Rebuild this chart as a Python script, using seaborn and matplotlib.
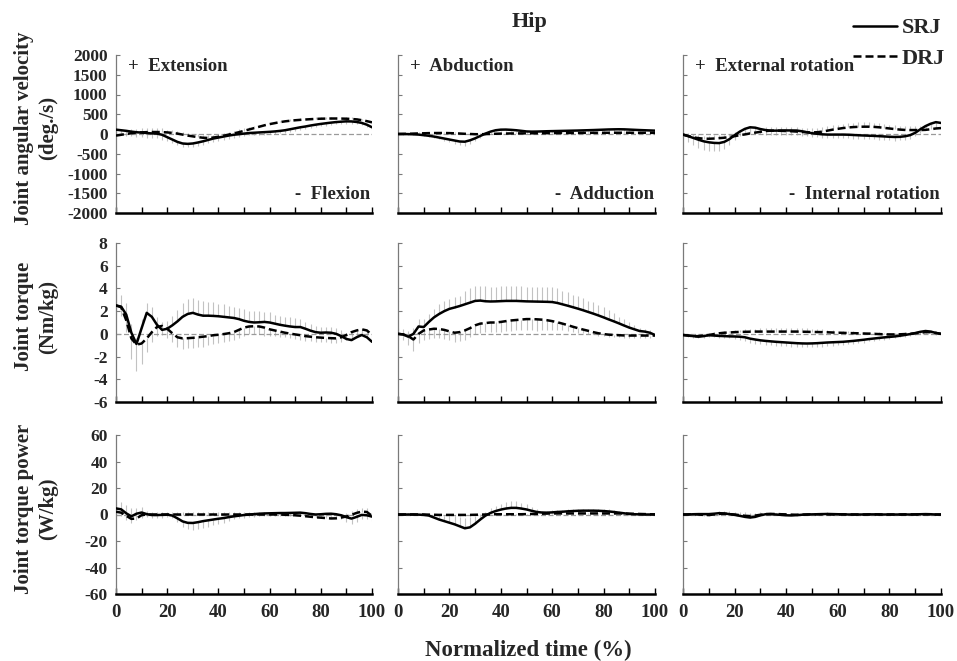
import numpy as np
import pandas as pd
import matplotlib
matplotlib.use("Agg")
import matplotlib.pyplot as plt
from matplotlib.lines import Line2D
import seaborn as sns

# ---------------- data ----------------
TIME = list(range(0, 101, 2))  # normalized time (%)

# Row 1: joint angular velocity (deg./s)
VEL_FLEX_SRJ = [110, 95, 80, 60, 45, 35, 25, 15, 10, -20,
                -80, -140, -200, -240, -250, -240, -215, -185, -150, -115,
                -90, -65, -40, -20, -5, 10, 25, 32, 40, 47,
                55, 65, 78, 95, 120, 145, 170, 190, 215, 236,
                255, 272, 288, 302, 312, 320, 318, 305, 280, 235,
                170]
VEL_FLEX_DRJ = [-40, -20, 0, 20, 35, 42, 47, 50, 50, 48,
                40, 28, 10, -15, -40, -60, -80, -95, -100, -90,
                -70, -45, -15, 15, 45, 80, 115, 150, 185, 220,
                250, 275, 300, 320, 335, 348, 358, 367, 375, 382,
                387, 390, 392, 392, 390, 387, 380, 370, 350, 325,
                295]
VEL_FLEX_SRJ_SD = [120, 120, 120, 120, 120, 120, 120, 120, 120, 120,
                   90, 90, 90, 90, 90, 90, 90, 90, 90, 90,
                   90, 90, 80, 70, 60, 60, 60, 60, 60, 60,
                   60, 60, 60, 60, 60, 60, 60, 60, 60, 60,
                   60, 60, 60, 60, 60, 60, 60, 60, 60, 60,
                   60]
VEL_FLEX_DRJ_SD = [100, 100, 100, 100, 100, 100, 100, 100, 100, 100,
                   70, 70, 70, 70, 70, 70, 70, 70, 70, 70,
                   70, 70, 70, 70, 70, 60, 50, 40, 40, 40,
                   40, 40, 40, 40, 40, 40, 40, 40, 40, 40,
                   40, 40, 40, 40, 40, 40, 40, 40, 40, 40,
                   40]

VEL_ABD_SRJ = [0, 0, -3, -8, -15, -30, -45, -65, -90, -115,
               -140, -165, -190, -195, -160, -110, -50, 10, 60, 95,
               110, 112, 105, 95, 80, 65, 60, 62, 66, 70,
               73, 76, 79, 82, 85, 88, 92, 96, 100, 105,
               110, 115, 118, 120, 118, 112, 106, 100, 95, 90,
               85]
VEL_ABD_DRJ = [0, 2, 5, 10, 14, 18, 22, 24, 25, 25,
               22, 18, 12, 5, 0, -5, -6, -3, 2, 6,
               10, 12, 14, 15, 16, 17, 18, 19, 20, 21,
               22, 23, 24, 25, 26, 27, 28, 29, 30, 30,
               31, 31, 32, 32, 32, 32, 31, 30, 30, 29,
               28]
VEL_ABD_SRJ_SD = [20, 20, 20, 20, 20, 20, 25, 30, 40, 50,
                  60, 80, 100, 120, 100, 70, 50, 40, 30, 30,
                  30, 30, 30, 30, 30, 30, 30, 30, 30, 30,
                  30, 30, 30, 30, 30, 30, 30, 30, 30, 30,
                  30, 30, 30, 30, 30, 30, 30, 30, 30, 30,
                  30]
VEL_ABD_DRJ_SD = [25, 25, 25, 25, 25, 25, 25, 25, 25, 25,
                  25, 25, 25, 25, 25, 25, 25, 25, 25, 25,
                  25, 25, 25, 25, 25, 25, 25, 25, 25, 25,
                  25, 25, 25, 25, 25, 25, 25, 25, 25, 25,
                  25, 25, 25, 25, 25, 25, 25, 25, 25, 25,
                  25]

VEL_ROT_SRJ = [-15, -55, -100, -145, -185, -210, -225, -230, -200, -130,
               -30, 60, 130, 170, 160, 125, 100, 85, 85, 88,
               90, 90, 88, 70, 45, 20, 5, -8, -15, -15,
               -15, -15, -18, -25, -32, -38, -43, -48, -55, -62,
               -70, -75, -72, -58, -30, 30, 120, 200, 260, 300,
               280]
VEL_ROT_DRJ = [-15, -50, -85, -105, -118, -120, -115, -105, -95, -75,
               -55, -30, -10, 15, 35, 55, 75, 85, 85, 80,
               75, 70, 62, 52, 44, 40, 45, 60, 85, 110,
               130, 150, 165, 175, 182, 185, 185, 180, 170, 155,
               140, 125, 112, 103, 100, 100, 100, 105, 120, 140,
               150]
VEL_ROT_SRJ_SD = [100, 150, 180, 200, 210, 210, 210, 200, 180, 150,
                  130, 120, 120, 120, 120, 120, 120, 120, 120, 120,
                  120, 120, 120, 110, 100, 90, 90, 90, 90, 90,
                  90, 90, 90, 90, 90, 90, 90, 90, 90, 90,
                  90, 90, 90, 90, 90, 90, 90, 90, 90, 90,
                  90]
VEL_ROT_DRJ_SD = [60, 70, 80, 80, 80, 80, 80, 80, 80, 80,
                  100, 100, 100, 100, 100, 100, 100, 100, 100, 100,
                  110, 110, 110, 110, 110, 110, 110, 110, 110, 110,
                  110, 110, 110, 110, 110, 110, 110, 110, 110, 110,
                  100, 100, 100, 100, 100, 100, 100, 100, 100, 100,
                  100]

# Row 2: joint torque (Nm/kg)
TRQ_FLEX_SRJ = [2.5, 2.4, 1.7, 0.1, -0.9, 0.5, 1.85, 1.5, 0.8, 0.35,
                0.45, 0.75, 1.1, 1.5, 1.75, 1.85, 1.7, 1.6, 1.6, 1.58,
                1.55, 1.5, 1.45, 1.4, 1.3, 1.15, 1.05, 1.0, 1.02, 1.05,
                1.0, 0.9, 0.8, 0.72, 0.65, 0.6, 0.6, 0.45, 0.28, 0.15,
                0.1, 0.12, 0.1, 0.0, -0.2, -0.45, -0.55, -0.3, -0.1, -0.3,
                -0.7]
TRQ_FLEX_DRJ = [2.5, 2.35, 1.2, -0.4, -0.95, -0.85, -0.4, 0.15, 0.6, 0.7,
                0.45, 0.05, -0.3, -0.4, -0.38, -0.35, -0.3, -0.25, -0.2, -0.12,
                -0.08, -0.02, 0.05, 0.15, 0.35, 0.55, 0.65, 0.67, 0.65, 0.55,
                0.4, 0.3, 0.2, 0.1, 0.02, -0.05, -0.12, -0.2, -0.25, -0.3,
                -0.33, -0.36, -0.38, -0.4, -0.3, -0.1, 0.15, 0.3, 0.4, 0.3,
                -0.1]
TRQ_FLEX_SRJ_SD = [1.0, 1.0, 1.0, 0.8, 0.5, 0.8, 0.9, 0.9, 0.7, 0.7,
                   0.7, 0.8, 1.0, 1.2, 1.3, 1.3, 1.3, 1.3, 1.2, 1.2,
                   1.1, 1.1, 1.0, 1.0, 1.0, 1.0, 1.0, 1.0, 1.0, 0.9,
                   0.9, 0.8, 0.8, 0.8, 0.8, 0.8, 0.7, 0.6, 0.6, 0.5,
                   0.5, 0.5, 0.5, 0.5, 0.5, 0.5, 0.5, 0.5, 0.5, 0.5,
                   0.3]
TRQ_FLEX_DRJ_SD = [0.8, 0.8, 1.0, 1.8, 2.3, 1.8, 1.2, 0.9, 0.8, 0.8,
                   0.8, 0.8, 0.9, 0.9, 0.9, 0.9, 0.9, 0.9, 0.8, 0.8,
                   0.7, 0.7, 0.7, 0.7, 0.7, 0.7, 0.7, 0.7, 0.7, 0.7,
                   0.6, 0.5, 0.5, 0.4, 0.4, 0.4, 0.4, 0.4, 0.4, 0.4,
                   0.4, 0.4, 0.4, 0.4, 0.4, 0.4, 0.4, 0.4, 0.4, 0.4,
                   0.3]

TRQ_ABD_SRJ = [0.0, -0.05, -0.25, 0.0, 0.65, 0.6, 1.05, 1.45, 1.75, 2.0,
               2.2, 2.32, 2.45, 2.6, 2.75, 2.9, 2.93, 2.87, 2.85, 2.86,
               2.88, 2.9, 2.9, 2.9, 2.88, 2.86, 2.85, 2.84, 2.83, 2.82,
               2.8, 2.72, 2.6, 2.48, 2.35, 2.22, 2.08, 1.93, 1.78, 1.62,
               1.45, 1.27, 1.1, 0.92, 0.73, 0.55, 0.4, 0.25, 0.2, 0.1,
               -0.1]
TRQ_ABD_DRJ = [0.0, -0.05, -0.2, -0.5, 0.0, 0.3, 0.38, 0.45, 0.43, 0.35,
               0.22, 0.1, 0.15, 0.3, 0.5, 0.75, 0.9, 0.95, 1.0, 1.0,
               1.05, 1.12, 1.18, 1.22, 1.26, 1.3, 1.3, 1.28, 1.25, 1.2,
               1.12, 1.02, 0.9, 0.77, 0.63, 0.5, 0.38, 0.27, 0.15, 0.05,
               -0.02, -0.07, -0.1, -0.12, -0.14, -0.15, -0.15, -0.15, -0.15, -0.15,
               -0.15]
TRQ_ABD_SRJ_SD = [0.5, 0.5, 0.5, 0.5, 0.7, 0.7, 0.7, 0.7, 0.9, 0.9,
                  0.9, 0.9, 0.9, 1.2, 1.3, 1.3, 1.3, 1.3, 1.3, 1.3,
                  1.3, 1.3, 1.3, 1.3, 1.3, 1.3, 1.3, 1.3, 1.3, 1.3,
                  1.3, 1.3, 1.2, 1.2, 1.1, 1.1, 1.1, 1.0, 1.0, 0.9,
                  0.9, 0.8, 0.7, 0.6, 0.6, 0.5, 0.4, 0.3, 0.25, 0.25,
                  0.2]
TRQ_ABD_DRJ_SD = [0.5, 0.5, 0.8, 1.0, 0.8, 0.8, 0.8, 0.8, 0.8, 0.8,
                  0.8, 0.8, 0.8, 0.8, 0.8, 0.8, 0.8, 0.8, 0.8, 0.8,
                  0.9, 0.9, 0.9, 0.9, 0.9, 1.0, 1.0, 1.0, 0.9, 0.9,
                  0.8, 0.7, 0.6, 0.5, 0.5, 0.4, 0.3, 0.3, 0.2, 0.2,
                  0.2, 0.2, 0.2, 0.2, 0.2, 0.2, 0.2, 0.2, 0.2, 0.2,
                  0.2]

TRQ_ROT_SRJ = [-0.1, -0.15, -0.2, -0.25, -0.2, -0.12, -0.15, -0.18, -0.2, -0.22,
               -0.23, -0.25, -0.3, -0.42, -0.5, -0.57, -0.62, -0.66, -0.7, -0.73,
               -0.76, -0.79, -0.82, -0.84, -0.85, -0.84, -0.82, -0.79, -0.76, -0.74,
               -0.72, -0.7, -0.66, -0.62, -0.57, -0.52, -0.46, -0.41, -0.36, -0.31,
               -0.27, -0.23, -0.17, -0.1, -0.02, 0.07, 0.18, 0.25, 0.2, 0.08,
               0.0]
TRQ_ROT_DRJ = [-0.1, -0.15, -0.2, -0.2, -0.15, -0.1, -0.02, 0.05, 0.1, 0.12,
               0.15, 0.17, 0.18, 0.19, 0.2, 0.2, 0.2, 0.2, 0.2, 0.2,
               0.2, 0.2, 0.2, 0.19, 0.18, 0.17, 0.16, 0.15, 0.14, 0.12,
               0.1, 0.09, 0.07, 0.06, 0.05, 0.03, 0.02, 0.0, -0.02, -0.04,
               -0.05, -0.05, -0.04, -0.02, 0.0, 0.05, 0.1, 0.15, 0.15, 0.08,
               0.0]
TRQ_ROT_SRJ_SD = [0.15, 0.15, 0.15, 0.15, 0.15, 0.15, 0.15, 0.15, 0.15, 0.15,
                  0.2, 0.25, 0.3, 0.35, 0.35, 0.35, 0.35, 0.35, 0.35, 0.35,
                  0.35, 0.35, 0.35, 0.35, 0.35, 0.35, 0.35, 0.35, 0.35, 0.35,
                  0.3, 0.3, 0.25, 0.25, 0.25, 0.25, 0.2, 0.2, 0.2, 0.2,
                  0.15, 0.15, 0.15, 0.15, 0.15, 0.15, 0.15, 0.15, 0.15, 0.15,
                  0.15]
TRQ_ROT_DRJ_SD = [0.15, 0.15, 0.15, 0.15, 0.15, 0.15, 0.15, 0.15, 0.15, 0.15,
                  0.2, 0.2, 0.25, 0.25, 0.25, 0.3, 0.3, 0.3, 0.3, 0.3,
                  0.3, 0.3, 0.3, 0.3, 0.3, 0.25, 0.25, 0.25, 0.2, 0.2,
                  0.15, 0.15, 0.15, 0.15, 0.15, 0.15, 0.15, 0.15, 0.15, 0.15,
                  0.15, 0.15, 0.15, 0.15, 0.15, 0.15, 0.15, 0.15, 0.15, 0.15,
                  0.15]

# Row 3: joint torque power (W/kg)
POW_FLEX_SRJ = [4.6, 3.9, 0.9, -1.4, 0.6, 1.5, 0.3, -0.4, -0.4, -0.3,
                -0.1, -0.8, -2.9, -5.2, -6.3, -6.4, -5.8, -5.0, -4.4, -3.8,
                -3.2, -2.7, -2.0, -1.4, -0.9, -0.4, 0.0, 0.3, 0.6, 0.8,
                0.9, 1.0, 1.1, 1.1, 1.2, 1.3, 1.4, 1.0, 0.4, 0.0,
                0.2, 0.5, 0.6, 0.2, -0.6, -2.0, -3.1, -1.8, -0.3, -0.6,
                -1.6]
POW_FLEX_DRJ = [2.1, 1.4, -1.0, -3.3, -3.0, -0.5, 0.0, 0.0, 0.0, 0.0,
                0.0, 0.0, 0.0, 0.0, 0.0, 0.0, 0.0, 0.0, 0.0, 0.0,
                0.0, 0.0, 0.0, 0.0, 0.0, 0.0, 0.0, 0.0, 0.0, 0.0,
                0.0, 0.0, 0.0, -0.2, -0.4, -0.6, -0.9, -1.3, -1.7, -2.1,
                -2.4, -2.7, -3.0, -2.9, -2.3, -1.5, -0.2, 1.2, 2.2, 1.9,
                -1.1]
POW_FLEX_SRJ_SD = [5, 5, 5, 5, 5, 4, 2, 2, 2, 2,
                   2, 2, 3, 4, 5, 5, 5, 5, 5, 4,
                   4, 4, 3, 2, 2, 2, 2, 2, 2, 2,
                   2, 2, 2, 2, 2, 2, 2, 2, 2, 2,
                   2, 2, 2, 2, 3, 4, 4, 4, 3, 3,
                   3]
POW_FLEX_DRJ_SD = [8, 8, 8, 8, 8, 6, 3, 2, 2, 2,
                   2, 2, 2, 2, 2, 2, 2, 2, 2, 2,
                   2, 2, 2, 2, 2, 2, 2, 2, 2, 2,
                   2, 2, 2, 2, 2, 2, 2, 2, 2, 2,
                   2, 2, 2, 2, 3, 3, 3, 3, 3, 3,
                   3]

POW_ABD_SRJ = [0.0, 0.0, 0.0, 0.0, -0.1, -0.3, -0.8, -2.3, -3.8, -5.0,
               -6.2, -7.4, -8.9, -10.4, -9.7, -7.0, -3.8, -0.9, 1.2, 2.6,
               3.7, 4.5, 5.0, 5.0, 4.5, 3.8, 2.8, 1.9, 1.5, 1.4,
               1.6, 1.9, 2.1, 2.4, 2.6, 2.8, 2.9, 2.9, 2.9, 2.8,
               2.6, 2.3, 1.9, 1.4, 0.9, 0.4, 0.2, 0.1, 0.0, 0.0,
               0.0]
POW_ABD_DRJ = [0.0, 0.0, 0.0, 0.0, 0.0, 0.0, -0.1, -0.2, -0.3, -0.3,
               -0.3, -0.3, -0.3, -0.3, -0.3, -0.2, -0.1, 0.0, 0.1, 0.2,
               0.2, 0.2, 0.2, 0.2, 0.2, 0.3, 0.4, 0.5, 0.6, 0.7,
               0.8, 0.8, 0.8, 0.8, 0.8, 0.8, 0.8, 0.8, 0.8, 0.8,
               0.8, 0.8, 0.8, 0.8, 0.8, 0.6, 0.5, 0.4, 0.3, 0.2,
               0.1]
POW_ABD_SRJ_SD = [0.8, 0.8, 0.8, 0.8, 0.8, 0.8, 1.0, 2.0, 3.0, 4.0,
                  5.0, 6.0, 7.0, 8.0, 8.0, 6.0, 4.0, 3.0, 3.5, 4.0,
                  4.5, 5.0, 5.0, 5.0, 4.5, 4.0, 3.0, 2.0, 1.5, 1.5,
                  1.5, 1.5, 1.5, 1.5, 1.5, 1.5, 1.5, 1.5, 1.5, 1.5,
                  1.5, 1.5, 1.5, 1.5, 1.0, 0.5, 0.5, 0.5, 0.5, 0.5,
                  0.5]
POW_ABD_DRJ_SD = [0.5, 0.5, 0.5, 0.5, 0.5, 0.5, 0.5, 0.5, 0.5, 0.5,
                  0.5, 0.5, 0.5, 0.5, 0.5, 0.5, 0.5, 0.5, 0.5, 0.5,
                  0.5, 0.5, 0.5, 0.5, 0.5, 0.5, 0.5, 0.5, 0.5, 0.5,
                  0.5, 0.5, 0.5, 0.5, 0.5, 0.5, 0.5, 0.5, 0.5, 0.5,
                  0.5, 0.5, 0.5, 0.5, 0.5, 0.5, 0.5, 0.5, 0.5, 0.5,
                  0.5]

POW_ROT_SRJ = [0.0, 0.0, 0.2, 0.3, 0.3, 0.3, 0.6, 1.0, 0.8, 0.3,
               -0.3, -1.0, -1.8, -2.3, -1.8, -0.6, 0.2, 0.3, 0.0, -0.3,
               -0.6, -0.7, -0.5, -0.2, 0.0, 0.1, 0.2, 0.3, 0.4, 0.3,
               0.2, 0.1, 0.0, 0.0, 0.0, 0.0, 0.1, 0.1, 0.0, 0.0,
               0.0, 0.0, 0.0, 0.0, 0.0, 0.1, 0.2, 0.3, 0.2, 0.0,
               0.0]
POW_ROT_DRJ = [0.0, 0.1, 0.3, 0.0, -0.3, -0.4, 0.0, 0.5, 0.6, 0.3,
               0.0, -0.5, -1.0, -1.2, -0.8, -0.2, 0.3, 0.4, 0.4, 0.2,
               0.1, -0.1, -0.2, -0.1, 0.0, 0.1, 0.2, 0.2, 0.1, 0.0,
               0.0, 0.1, 0.1, 0.0, 0.0, 0.0, 0.0, 0.1, 0.1, 0.0,
               0.0, 0.0, 0.0, 0.1, 0.1, 0.0, 0.0, 0.1, 0.1, 0.0,
               0.0]
POW_ROT_SRJ_SD = [0.8, 0.8, 0.8, 0.8, 0.8, 0.8, 0.8, 1.5, 2.0, 2.0,
                  2.5, 3.0, 3.5, 3.5, 3.0, 2.5, 1.5, 1.2, 1.2, 1.2,
                  1.2, 1.2, 1.2, 1.2, 1.2, 1.2, 1.2, 1.2, 1.2, 1.2,
                  0.6, 0.6, 0.6, 0.6, 0.6, 0.6, 0.6, 0.6, 0.6, 0.6,
                  0.6, 0.6, 0.6, 0.6, 0.6, 0.6, 0.6, 0.6, 0.6, 0.6,
                  0.6]
POW_ROT_DRJ_SD = [0.6, 0.6, 0.6, 0.6, 0.6, 0.6, 0.6, 0.6, 0.6, 0.6,
                  0.6, 0.6, 0.6, 0.6, 0.6, 0.6, 0.6, 0.6, 0.6, 0.6,
                  0.6, 0.6, 0.6, 0.6, 0.6, 0.6, 0.6, 0.6, 0.6, 0.6,
                  0.6, 0.6, 0.6, 0.6, 0.6, 0.6, 0.6, 0.6, 0.6, 0.6,
                  0.6, 0.6, 0.6, 0.6, 0.6, 0.6, 0.6, 0.6, 0.6, 0.6,
                  0.6]

JUMPS = ["SRJ", "DRJ"]
TITLE = "Hip"
X_LABEL = "Normalized time (%)"
ROW_LABELS = ["Joint angular velocity\n(deg./s)", "Joint torque\n(Nm/kg)",
              "Joint torque power\n(W/kg)"]
Y_TICKS = [[-2000, -1500, -1000, -500, 0, 500, 1000, 1500, 2000],
           [-6, -4, -2, 0, 2, 4, 6, 8],
           [-60, -40, -20, 0, 20, 40, 60]]
X_TICKS = [0, 10, 20, 30, 40, 50, 60, 70, 80, 90, 100]
X_TICK_LABELS = ["0", "", "20", "", "40", "", "60", "", "80", "", "100"]
POS_LABELS = ["+  Extension", "+  Abduction", "+  External rotation"]
NEG_LABELS = ["-  Flexion", "-  Adduction", "-  Internal rotation"]

SERIES = [
    [(VEL_FLEX_SRJ, VEL_FLEX_SRJ_SD, VEL_FLEX_DRJ, VEL_FLEX_DRJ_SD),
     (VEL_ABD_SRJ, VEL_ABD_SRJ_SD, VEL_ABD_DRJ, VEL_ABD_DRJ_SD),
     (VEL_ROT_SRJ, VEL_ROT_SRJ_SD, VEL_ROT_DRJ, VEL_ROT_DRJ_SD)],
    [(TRQ_FLEX_SRJ, TRQ_FLEX_SRJ_SD, TRQ_FLEX_DRJ, TRQ_FLEX_DRJ_SD),
     (TRQ_ABD_SRJ, TRQ_ABD_SRJ_SD, TRQ_ABD_DRJ, TRQ_ABD_DRJ_SD),
     (TRQ_ROT_SRJ, TRQ_ROT_SRJ_SD, TRQ_ROT_DRJ, TRQ_ROT_DRJ_SD)],
    [(POW_FLEX_SRJ, POW_FLEX_SRJ_SD, POW_FLEX_DRJ, POW_FLEX_DRJ_SD),
     (POW_ABD_SRJ, POW_ABD_SRJ_SD, POW_ABD_DRJ, POW_ABD_DRJ_SD),
     (POW_ROT_SRJ, POW_ROT_SRJ_SD, POW_ROT_DRJ, POW_ROT_DRJ_SD)],
]

# direction in which the SD bars are drawn (SRJ, DRJ)
SD_DIR = [[(-1, 1), (-1, 1), (-1, 1)],
          [(1, -1), (1, -1), (-1, 1)],
          [(-1, 1), (1, -1), (1, -1)]]

# ---------------- style ----------------
sns.set_style("white")
plt.rcParams["font.family"] = ["Liberation Serif", "DejaVu Serif"]
plt.rcParams["font.weight"] = "bold"
plt.rcParams["axes.unicode_minus"] = False

W, H = 957, 661
fig = plt.figure(figsize=(W / 100, H / 100), dpi=100)

COL_X = [(116, 372), (398, 655), (683, 941)]
ROW_Y = [(55, 213), (243, 402), (435, 594)]

for r in range(3):
    for c in range(3):
        x0, x1 = COL_X[c]
        y0, y1 = ROW_Y[r]
        ax = fig.add_axes([x0 / W, 1 - y1 / H, (x1 - x0) / W, (y1 - y0) / H])
        srj, srj_sd, drj, drj_sd = SERIES[r][c]
        df = pd.DataFrame({
            "time": TIME + TIME,
            "value": srj + drj,
            "sd": srj_sd + drj_sd,
            "jump": ["SRJ"] * len(TIME) + ["DRJ"] * len(TIME),
        })
        # SD bars
        for jump, d in zip(JUMPS, SD_DIR[r][c]):
            sub = df[df["jump"] == jump]
            ax.vlines(sub["time"], sub["value"], sub["value"] + d * sub["sd"],
                      color="#c2c2c2", linewidth=0.8, zorder=1)
        ax.axhline(0, color="#9a9a9a", linewidth=0.9, linestyle=(0, (4, 2)), zorder=2)
        sns.lineplot(data=df, x="time", y="value", style="jump", style_order=JUMPS,
                     dashes={"SRJ": "", "DRJ": (3.2, 1.6)}, color="black",
                     linewidth=1.8, legend=False, errorbar=None, ax=ax, zorder=3)
        ax.set_xlim(0, 100)
        ax.set_ylim(Y_TICKS[r][0], Y_TICKS[r][-1])
        ax.set_xlabel("")
        ax.set_ylabel("")
        for s in ("top", "right"):
            ax.spines[s].set_visible(False)
        ax.spines["left"].set_color("#7a7a7a")
        ax.spines["left"].set_linewidth(0.9)
        ax.spines["bottom"].set_color("black")
        ax.spines["bottom"].set_linewidth(1.8)
        ax.set_xticks(X_TICKS)
        ax.set_yticks(Y_TICKS[r])
        ax.tick_params(axis="x", bottom=True, direction="in", length=4, width=1.0,
                       color="black", pad=7, labelsize=13.5)
        ax.tick_params(axis="y", left=True, direction="in", length=3, width=0.8,
                       color="#7a7a7a", pad=6, labelsize=12.5)
        if r == 2:
            ax.set_xticklabels(X_TICK_LABELS, fontweight="bold")
        else:
            ax.set_xticklabels([])
        if c == 0:
            ax.set_yticklabels([str(v) for v in Y_TICKS[r]], fontweight="bold")
        else:
            ax.set_yticklabels([])
        if r == 0:
            ax.text(0.047, 0.93, POS_LABELS[c], transform=ax.transAxes, ha="left",
                    va="center", fontsize=13.5, fontweight="bold")
            ax.text(0.995, 0.115, NEG_LABELS[c], transform=ax.transAxes, ha="right",
                    va="center", fontsize=13.5, fontweight="bold")

# row labels
for r, lab in enumerate(ROW_LABELS):
    yc = (ROW_Y[r][0] + ROW_Y[r][1]) / 2 - 6
    fig.text(36 / W, 1 - yc / H, lab, rotation=90, ha="center", va="center",
             multialignment="center", fontsize=15, fontweight="bold", linespacing=1.3)

fig.text(530 / W, 1 - 22 / H, TITLE, ha="center", va="center", fontsize=16,
         fontweight="bold")
fig.text(528 / W, 1 - 650 / H, X_LABEL, ha="center", va="center", fontsize=16.5,
         fontweight="bold")

handles = [Line2D([], [], color="black", linewidth=1.8, linestyle="-"),
           Line2D([], [], color="black", linewidth=1.8, linestyle=(0, (3.2, 1.6)))]
fig.legend(handles, JUMPS, loc="upper right", bbox_to_anchor=(1.006, 1.0),
           frameon=False, prop={"family": "Liberation Serif", "weight": "bold", "size": 16},
           handlelength=2.0, handletextpad=0.2, labelspacing=0.45, borderpad=0.3)

fig.savefig("out.png", dpi=100)
